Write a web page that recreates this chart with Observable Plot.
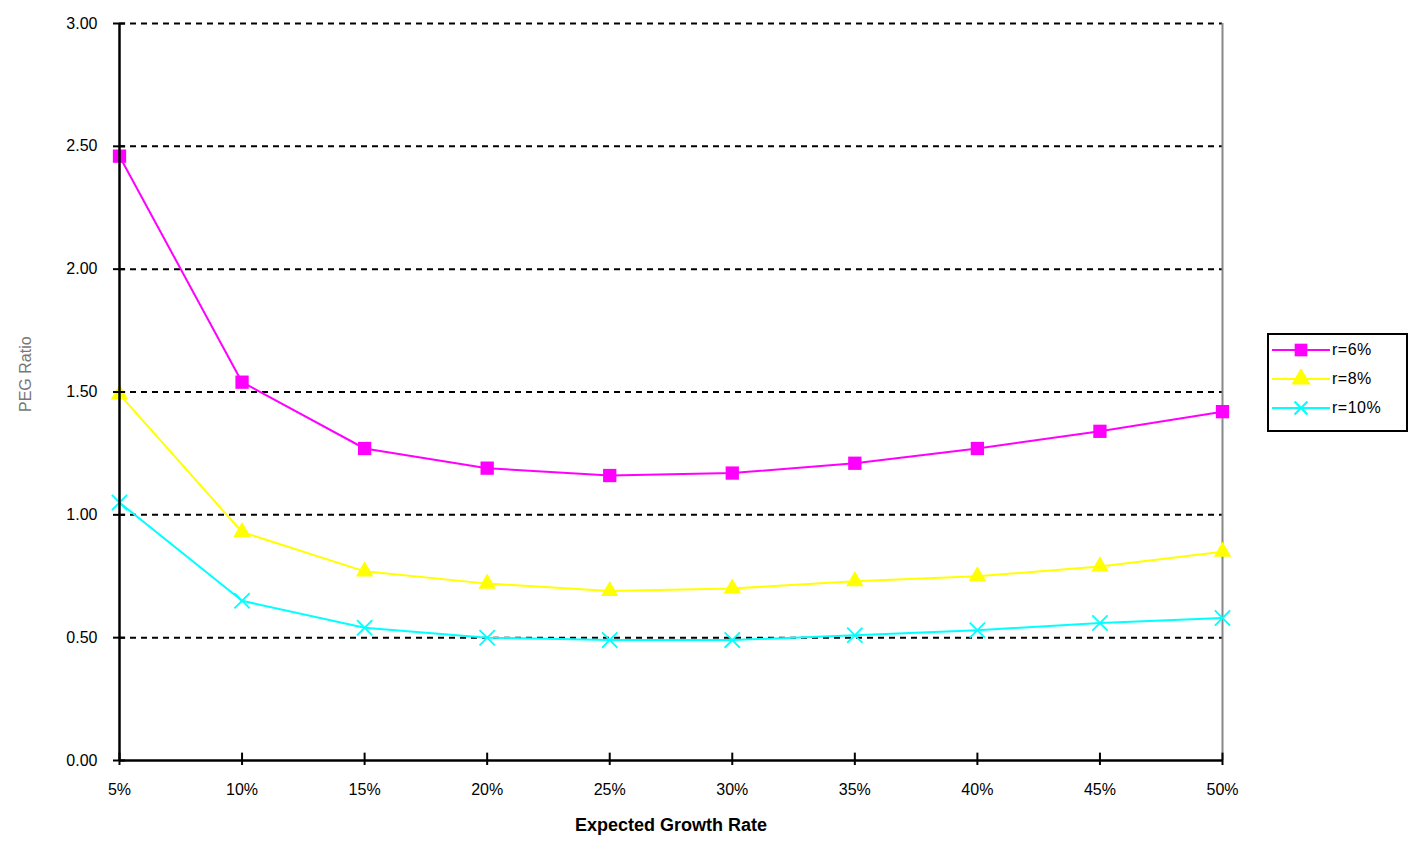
<!DOCTYPE html>
<html>
<head>
<meta charset="utf-8">
<script src="https://cdn.jsdelivr.net/npm/d3@7"></script>
<script src="https://cdn.jsdelivr.net/npm/@observablehq/plot@0.6"></script>
<style>
  body { margin: 0; background: #fff; font-family: "Liberation Sans", Arial, sans-serif; }
  #wrap { position: relative; width: 1410px; height: 845px; }
  #legend { position: absolute; left: 1267px; top: 333px; width: 137px; height: 95px;
            border: 2px solid #000; background: #fff; box-sizing: content-box; }
  .item { position: absolute; left: 3px; height: 22px; display: flex; align-items: center;
          font-size: 16px; color: #000; letter-spacing: 0.5px; }
  .item svg { margin-right: 2px; }
</style>
</head>
<body>
<div id="wrap"><div id="chart"></div><div id="legend"></div></div>
<script>
const growth = [5, 10, 15, 20, 25, 30, 35, 40, 45, 50];
const seriesNames = ["r=6%", "r=8%", "r=10%"];
const r6 = [2.46, 1.54, 1.27, 1.19, 1.16, 1.17, 1.21, 1.27, 1.34, 1.42];
const r8 = [1.49, 0.93, 0.77, 0.72, 0.69, 0.70, 0.73, 0.75, 0.79, 0.85];
const r10 = [1.05, 0.65, 0.54, 0.50, 0.49, 0.49, 0.51, 0.53, 0.56, 0.58];
const colors = ["#ff00ff", "#ffff00", "#00ffff"];
const symbols = ["square", "triangle", "times"];
const yTicks = [0, 0.5, 1, 1.5, 2, 2.5, 3];

const seriesValues = [r6, r8, r10];
const data = [];
seriesNames.forEach((s, i) => growth.forEach((g, j) => data.push({series: s, g, v: seriesValues[i][j]})));

const chart = Plot.plot({
  width: 1260,
  height: 845,
  marginLeft: 119,
  marginRight: 38,
  marginTop: 23,
  marginBottom: 85,
  style: {fontFamily: "Liberation Sans, Arial, sans-serif", fontSize: "16px", color: "#000", background: "#fff"},
  x: {type: "linear", domain: [5, 50], label: null},
  y: {type: "linear", domain: [0, 3], label: null},
  color: {domain: seriesNames, range: colors},
  marks: [
    Plot.ruleY(yTicks.filter(d => d > 0), {stroke: "#000", strokeWidth: 2, strokeDasharray: "6,5"}),
    Plot.ruleX([50], {stroke: "#888", strokeWidth: 2}),
    Plot.line(data, {x: "g", y: "v", z: "series", stroke: "series", strokeWidth: 2}),
    Plot.dot(data.filter(d => d.series === seriesNames[0]), {x: "g", y: "v", symbol: "square", fill: "series", r: 7.5}),
    Plot.dot(data.filter(d => d.series === seriesNames[1]), {x: "g", y: "v", symbol: "triangle", fill: "series", r: 6.5}),
    Plot.dot(data.filter(d => d.series === seriesNames[2]), {x: "g", y: "v", symbol: "times", stroke: "series", strokeWidth: 1.8, r: 7}),
    Plot.ruleX([5], {stroke: "#000", strokeWidth: 2.5}),
    Plot.ruleY([0], {stroke: "#000", strokeWidth: 2.5}),
    Plot.ruleX(growth, {x: d => d, y1: 0, y2: 0.03, stroke: "#000", strokeWidth: 2}),
    Plot.ruleY(yTicks, {y: d => d, x1: 5, x2: 5.25, stroke: "#000", strokeWidth: 2}),
    Plot.axisX({ticks: growth, tickFormat: d => d + "%", tickSize: 5, tickPadding: 18, strokeWidth: 2, fontSize: 16, fontWeight: 500, label: null}),
    Plot.axisY({ticks: yTicks, tickFormat: d => d.toFixed(2), tickSize: 6, tickPadding: 16, strokeWidth: 2, fontSize: 16, fontWeight: 500, label: null}),
    Plot.text(["Expected Growth Rate"], {frameAnchor: "bottom", dy: 70, fontWeight: "bold", fontSize: 18}),
    Plot.text(["PEG Ratio"], {frameAnchor: "left", dx: -94, dy: 20, rotate: -90, fill: "#777", fontSize: 16})
  ]
});
document.getElementById("chart").appendChild(chart);

const legend = document.getElementById("legend");
seriesNames.forEach((s, i) => {
  const div = document.createElement("div");
  div.className = "item";
  div.style.top = (4 + i * 29) + "px";
  const sym = d3.symbol(i === 0 ? d3.symbolSquare : i === 1 ? d3.symbolTriangle : d3.symbolTimes, i === 2 ? 110 : 160)();
  div.innerHTML = `<svg width="58" height="20"><line x1="0" x2="58" y1="10" y2="10" stroke="${colors[i]}" stroke-width="2"/>
    <path d="${sym}" transform="translate(29,10)" fill="${i === 2 ? "none" : colors[i]}" stroke="${i === 2 ? colors[i] : "none"}" stroke-width="2"/></svg><span>${s}</span>`;
  legend.appendChild(div);
});
</script>
</body>
</html>
